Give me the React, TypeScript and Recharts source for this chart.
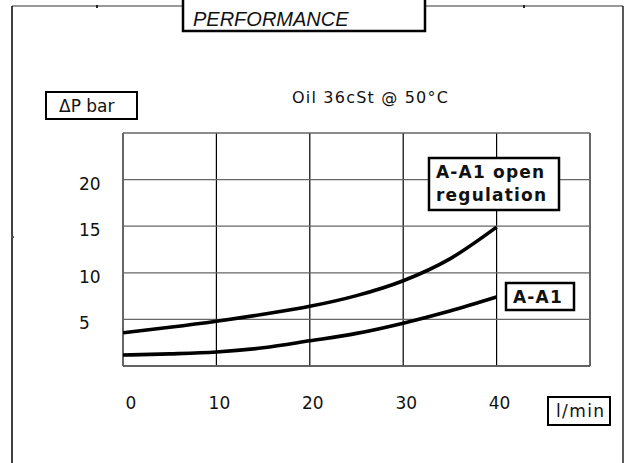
import React from 'react'
import { LineChart, Line, XAxis, YAxis, CartesianGrid } from 'recharts'

// flow l/min and pressure drop in bar
const flowPoints = [0, 5, 10, 15, 20, 25, 30, 35, 40]
const openRegulationBar = [3.57, 4.15, 4.8, 5.55, 6.4, 7.55, 9.15, 11.5, 14.9]
const aa1Bar = [1.18, 1.3, 1.5, 1.95, 2.7, 3.5, 4.6, 5.9, 7.4]

const xTicks = [0, 10, 20, 30, 40]
const yTicks = [5, 10, 15, 20]

const chartRows = flowPoints.map((flow, i) => ({
  flow,
  openReg: openRegulationBar[i],
  aa1: aa1Bar[i],
}))

const FONT = '"DejaVu Sans", Verdana, sans-serif'

const XTick = (props: any) => {
  const { x, y, payload } = props
  const shift = payload.value === 0 ? 8 : 3
  return (
    <text x={x + shift} y={y + 35} textAnchor="middle" fontFamily={FONT} fontSize={17} fill="#111">
      {payload.value}
    </text>
  )
}

const YTick = (props: any) => {
  const { y, payload } = props
  return (
    <text x={79} y={y + 10} textAnchor="start" fontFamily={FONT} fontSize={17} fill="#111">
      {payload.value}
    </text>
  )
}

export default function App() {
  return (
    <div style={{ position: 'absolute', left: 0, top: 0, width: 627, height: 463, background: '#fff' }}>
      <LineChart
        width={627}
        height={463}
        data={chartRows}
        margin={{ top: 133, right: 37, left: 63, bottom: 57 }}
      >
        <CartesianGrid horizontal={false} stroke="#000" strokeWidth={1.2} />
        <CartesianGrid vertical={false} stroke="#666" strokeWidth={1.3} />
        <XAxis
          dataKey="flow"
          type="number"
          domain={[0, 50]}
          ticks={xTicks}
          height={40}
          tickLine={false}
          axisLine={{ stroke: '#555', strokeWidth: 1.5 }}
          tick={<XTick />}
          allowDataOverflow
        />
        <YAxis
          type="number"
          domain={[0, 25]}
          ticks={yTicks}
          width={60}
          tickLine={false}
          axisLine={false}
          tick={<YTick />}
          allowDataOverflow
        />
        <Line type="monotone" dataKey="openReg" stroke="#000" strokeWidth={3.6} dot={false} isAnimationActive={false} />
        <Line type="monotone" dataKey="aa1" stroke="#000" strokeWidth={3.6} dot={false} isAnimationActive={false} />
      </LineChart>

      {/* frame, header box and labels */}
      <svg width={627} height={463} style={{ position: 'absolute', left: 0, top: 0, pointerEvents: 'none' }}>
        <line x1={12} y1={6} x2={623} y2={6} stroke="#777" strokeWidth={1.5} />
        <line x1={12} y1={6} x2={12} y2={463} stroke="#000" strokeWidth={1.5} />
        <line x1={623} y1={6} x2={623} y2={463} stroke="#000" strokeWidth={1.3} />
        <rect x={96} y={5} width={2} height={3} fill="#222" />
        <rect x={523} y={5} width={2} height={3} fill="#222" />
        <rect x={11} y={236} width={3} height={2} fill="#555" />

        <rect x={183} y={-5} width={242} height={36} fill="#fff" stroke="#000" strokeWidth={2.5} />
        <text x={193} y={26} fontFamily='"Liberation Sans", Arial, sans-serif' fontStyle="italic" fontSize={20} fill="#111">
          PERFORMANCE
        </text>

        <rect x={46} y={92} width={91} height={27} fill="#fff" stroke="#000" strokeWidth={2} />
        <text x={59} y={112} fontFamily={FONT} fontSize={17} fill="#111">
          ΔP bar
        </text>

        <text x={292} y={103} fontFamily={FONT} fontSize={16} letterSpacing={1.2} fill="#111">
          Oil 36cSt @ 50°C
        </text>

        <rect x={429} y={158} width={130} height={52} fill="#fff" stroke="#000" strokeWidth={2.5} />
        <text fontFamily={FONT} fontSize={17} fontWeight="bold" letterSpacing={1.2} fill="#111">
          <tspan x={436} y={178}>A-A1 open</tspan>
          <tspan x={436} y={201}>regulation</tspan>
        </text>

        <rect x={506} y={283} width={68} height={27} fill="#fff" stroke="#000" strokeWidth={2.5} />
        <text x={513} y={303} fontFamily={FONT} fontSize={17} fontWeight="bold" letterSpacing={1.2} fill="#111">
          A-A1
        </text>

        <rect x={548} y={397} width={62} height={28} fill="#fff" stroke="#000" strokeWidth={2} />
        <text x={556} y={417} fontFamily={FONT} fontSize={17} letterSpacing={1.4} fill="#111">
          l/min
        </text>
      </svg>
    </div>
  )
}
